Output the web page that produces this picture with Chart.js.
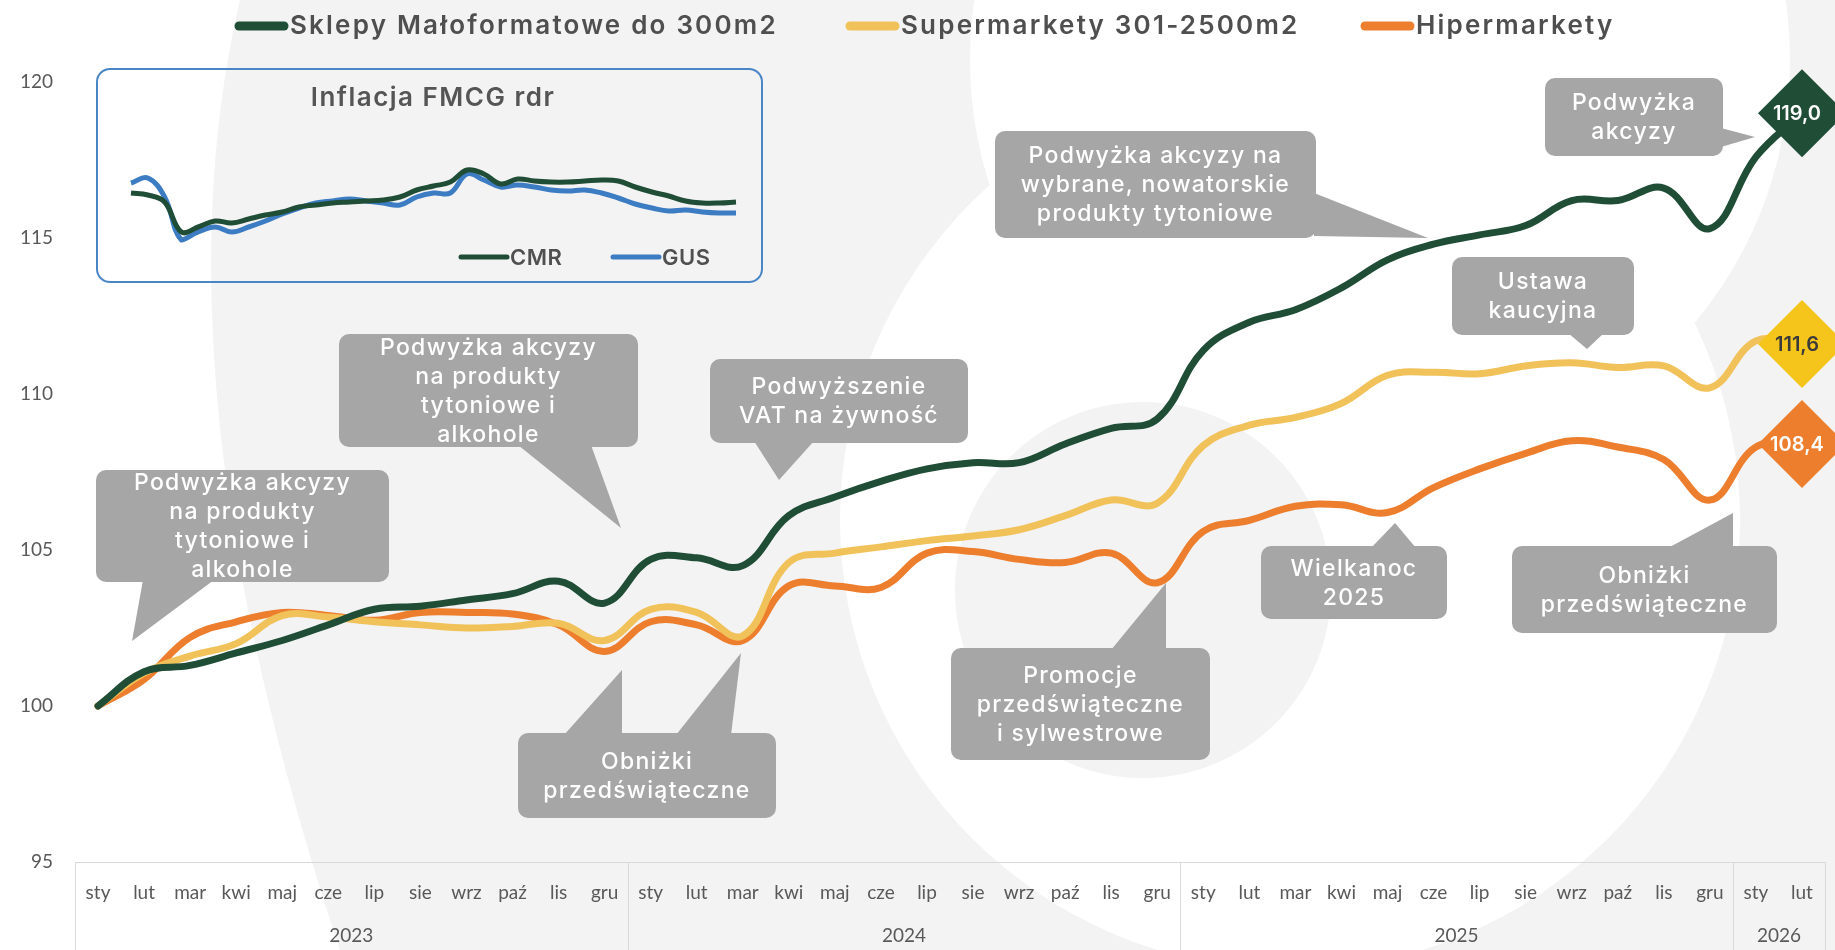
<!DOCTYPE html>
<html>
<head>
<meta charset="utf-8">
<script src="https://cdn.jsdelivr.net/npm/chart.js@4.4.1/dist/chart.umd.min.js"></script>
<style>
  html, body { margin: 0; padding: 0; background: #fff; }
  #wrap { position: relative; width: 1835px; height: 950px; overflow: hidden; }
  #main { position: absolute; left: 0; top: 0; }
  #insetBox { position: absolute; left: 96px; top: 68px; width: 667px; height: 215px; box-sizing: border-box;
              border: 2px solid #4a86c6; border-radius: 14px; }
  #insetChart { position: absolute; left: 96px; top: 68px; }
</style>
</head>
<body>
<div id="wrap">
  <canvas id="main" width="1835" height="950"></canvas>
  <div id="insetBox"></div>
  <canvas id="insetChart" width="667" height="215"></canvas>
</div>
<script>
// Ceny w kanałach handlu - indeks (sty 2023 = 100)
const months = ['sty', 'lut', 'mar', 'kwi', 'maj', 'cze', 'lip', 'sie', 'wrz', 'paź', 'lis', 'gru'];
const periodLabels = [...months, ...months, ...months, 'sty', 'lut'];
const yearLabels = ['2023', '2024', '2025', '2026'];
const monthsPerYear = [12, 12, 12, 2];
const yTicks = [95, 100, 105, 110, 115, 120];

const smallStores = [
  100.0, 101.1, 101.3, 101.7, 102.1, 102.6, 103.1, 103.2, 103.4, 103.6, 104.0, 103.3,
  104.7, 104.75, 104.5, 106.1, 106.7, 107.2, 107.6, 107.8, 107.8, 108.4, 108.9, 109.2,
  111.4, 112.3, 112.7, 113.4, 114.3, 114.8, 115.1, 115.4, 116.2, 116.2, 116.6, 115.3,
  117.6, 119.0
];
const supermarkets = [
  100.0, 101.05, 101.6, 102.0, 102.9, 102.85, 102.7, 102.6, 102.5, 102.55, 102.65, 102.1,
  103.1, 103.0, 102.25, 104.6, 104.9, 105.1, 105.3, 105.45, 105.65, 106.1, 106.6, 106.5,
  108.35, 109.0, 109.25, 109.7, 110.6, 110.7, 110.65, 110.9, 111.0, 110.85, 110.9, 110.2,
  111.7, 111.6
];
const hypermarkets = [
  100.0, 100.85, 102.2, 102.7, 103.0, 102.9, 102.75, 103.0, 103.0, 102.95, 102.6, 101.75,
  102.7, 102.6, 102.1, 103.85, 103.85, 103.8, 104.9, 104.95, 104.7, 104.6, 104.9, 103.95,
  105.6, 105.95, 106.4, 106.45, 106.2, 107.0, 107.6, 108.1, 108.5, 108.3, 107.9, 106.6,
  108.3, 108.4
];

// Inflacja FMCG rdr (wstawka)
const cmrInflation = [
  6.7, 6.5, 5.8, 2.8, 3.3, 3.9, 3.7, 4.1, 4.5, 4.8, 5.3, 5.5, 5.7, 5.8, 5.9, 6.0, 6.3, 7.0, 7.4,
  7.8, 9.0, 8.6, 7.6, 8.1, 7.9, 7.8, 7.8, 7.9, 8.0, 7.9, 7.3, 6.8, 6.4, 5.9, 5.7, 5.7, 5.8
];
const gusInflation = [
  7.7, 8.2, 6.3, 2.0, 2.8, 3.3, 2.8, 3.3, 3.9, 4.6, 5.2, 5.7, 5.9, 6.1, 5.9, 5.7, 5.5, 6.3, 6.7,
  6.7, 8.6, 8.0, 7.3, 7.5, 7.3, 7.0, 6.9, 7.0, 6.7, 6.2, 5.6, 5.2, 4.9, 5.0, 4.8, 4.7, 4.7
];

const COLORS = {
  green: '#1f4d36',
  yellow: '#f1c25a',
  orange: '#ec7e2e',
  yellowTag: '#f6c51c',
  blue: '#3b7cc3',
  note: '#a6a6a6',
  text: '#595959',
  grid: '#d9d9d9'
};

const SANS = 'Inter, "Open Sans", sans-serif';
Chart.defaults.font.family = 'Lato, "Open Sans", sans-serif';

// annotations: box [x, y, w, h] and pointer triangles in canvas px
const notes = [
  { lines: ['Podwyżka akcyzy', 'na produkty', 'tytoniowe i', 'alkohole'], box: [96, 470, 293, 112],
    tips: [[[143, 580], [214, 580], [132, 641]]] },
  { lines: ['Podwyżka akcyzy', 'na produkty', 'tytoniowe i', 'alkohole'], box: [339, 334, 299, 113],
    tips: [[[518, 445], [591, 445], [621, 528]]] },
  { lines: ['Podwyższenie', 'VAT na żywność'], box: [710, 359, 258, 84],
    tips: [[[754, 441], [814, 441], [779, 480]]] },
  { lines: ['Podwyżka akcyzy na', 'wybrane, nowatorskie', 'produkty tytoniowe'], box: [995, 131, 321, 107],
    tips: [[[1314, 193], [1314, 236], [1428, 238]]] },
  { lines: ['Podwyżka', 'akcyzy'], box: [1545, 78, 178, 78],
    tips: [[[1721, 128], [1721, 147], [1755, 137]]] },
  { lines: ['Ustawa', 'kaucyjna'], box: [1452, 257, 182, 78],
    tips: [[[1568, 333], [1604, 333], [1587, 349]]] },
  { lines: ['Obniżki', 'przedświąteczne'], box: [518, 733, 258, 85],
    tips: [[[564, 735], [622, 735], [622, 670]], [[676, 735], [731, 735], [741, 653]]] },
  { lines: ['Promocje', 'przedświąteczne', 'i sylwestrowe'], box: [951, 648, 259, 112],
    tips: [[[1111, 650], [1166, 650], [1166, 583]]] },
  { lines: ['Wielkanoc', '2025'], box: [1261, 546, 186, 73],
    tips: [[[1371, 548], [1416, 548], [1395, 523]]] },
  { lines: ['Obniżki', 'przedświąteczne'], box: [1512, 546, 265, 87],
    tips: [[[1668, 548], [1733, 548], [1733, 513]]] }
];

const legendItems = [
  { label: 'Sklepy Małoformatowe do 300m2', color: COLORS.green, x: 234 },
  { label: 'Supermarkety 301-2500m2', color: COLORS.yellow, x: 845 },
  { label: 'Hipermarkety', color: COLORS.orange, x: 1360 }
];

const endTags = [
  { fill: COLORS.green, text: '#ffffff' },
  { fill: COLORS.yellowTag, text: '#3a3a3a' },
  { fill: COLORS.orange, text: '#ffffff' }
];

// light watermark shapes behind the chart
const backdrop = {
  id: 'backdrop',
  beforeDraw(chart) {
    const ctx = chart.ctx;
    ctx.save();
    ctx.fillStyle = '#ffffff';
    ctx.fillRect(0, 0, chart.width, chart.height);
    ctx.fillStyle = '#f3f3f3';
    ctx.beginPath();
    ctx.moveTo(240, 0);
    ctx.quadraticCurveTo(150, 380, 340, 950);
    ctx.lineTo(1835, 950);
    ctx.lineTo(1835, 0);
    ctx.closePath();
    ctx.fill();
    ctx.fillStyle = '#ffffff';
    ctx.beginPath(); ctx.arc(1290, 520, 450, 0, Math.PI * 2); ctx.fill();
    ctx.beginPath(); ctx.arc(1380, 60, 410, 0, Math.PI * 2); ctx.fill();
    ctx.fillStyle = '#f3f3f3';
    ctx.beginPath(); ctx.arc(1143, 590, 188, 0, Math.PI * 2); ctx.fill();
    ctx.restore();
  }
};

function roundBox(ctx, x, y, w, h, r) {
  ctx.beginPath();
  ctx.moveTo(x + r, y);
  ctx.arcTo(x + w, y, x + w, y + h, r);
  ctx.arcTo(x + w, y + h, x, y + h, r);
  ctx.arcTo(x, y + h, x, y, r);
  ctx.arcTo(x, y, x + w, y, r);
  ctx.closePath();
}

const overlay = {
  id: 'overlay',
  afterDraw(chart) {
    const ctx = chart.ctx;
    const xs = chart.scales.x;
    const area = chart.chartArea;
    ctx.save();

    // axis table
    ctx.strokeStyle = COLORS.grid;
    ctx.lineWidth = 1;
    ctx.beginPath();
    ctx.moveTo(area.left, area.bottom + 0.5);
    ctx.lineTo(area.right, area.bottom + 0.5);
    const seps = [area.left];
    let idx = 0;
    monthsPerYear.forEach((n, k) => {
      idx += n;
      if (k < monthsPerYear.length - 1) {
        seps.push((xs.getPixelForValue(idx - 1) + xs.getPixelForValue(idx)) / 2);
      }
    });
    seps.push(area.right);
    seps.forEach(x => {
      ctx.moveTo(Math.round(x) + 0.5, area.bottom);
      ctx.lineTo(Math.round(x) + 0.5, chart.height);
    });
    ctx.stroke();

    ctx.fillStyle = COLORS.text;
    ctx.font = '19px Lato, "Open Sans", sans-serif';
    ctx.textAlign = 'center';
    ctx.textBaseline = 'middle';
    yearLabels.forEach((lbl, k) => ctx.fillText(lbl, (seps[k] + seps[k + 1]) / 2, 936));

    // callouts
    notes.forEach(n => {
      const [x, y, w, h] = n.box;
      ctx.fillStyle = COLORS.note;
      roundBox(ctx, x, y, w, h, 10);
      ctx.fill();
      n.tips.forEach(t => {
        ctx.beginPath();
        ctx.moveTo(t[0][0], t[0][1]);
        ctx.lineTo(t[1][0], t[1][1]);
        ctx.lineTo(t[2][0], t[2][1]);
        ctx.closePath();
        ctx.fill();
      });
      ctx.fillStyle = '#ffffff';
      ctx.font = '500 23px ' + SANS;
      ctx.letterSpacing = '1.3px';
      const lh = 29;
      const y0 = y + h / 2 - (n.lines.length - 1) * lh / 2;
      n.lines.forEach((line, i) => ctx.fillText(line, x + w / 2, y0 + i * lh + 1));
      ctx.letterSpacing = '0px';
    });

    // end-value diamonds
    chart.data.datasets.forEach((ds, i) => {
      const meta = chart.getDatasetMeta(i);
      const pt = meta.data[meta.data.length - 1];
      const tag = endTags[i];
      const s = 44;
      ctx.fillStyle = tag.fill;
      ctx.beginPath();
      ctx.moveTo(pt.x, pt.y - s);
      ctx.lineTo(pt.x + s, pt.y);
      ctx.lineTo(pt.x, pt.y + s);
      ctx.lineTo(pt.x - s, pt.y);
      ctx.closePath();
      ctx.fill();
      ctx.fillStyle = tag.text;
      ctx.font = '600 20px ' + SANS;
      const v = ds.data[ds.data.length - 1];
      ctx.fillText(v.toFixed(1).replace('.', ','), pt.x - 5, pt.y + 1);
    });

    // legend
    ctx.textAlign = 'left';
    ctx.font = '600 26px ' + SANS;
    ctx.letterSpacing = '2.2px';
    legendItems.forEach(item => {
      ctx.strokeStyle = item.color;
      ctx.lineWidth = 9;
      ctx.lineCap = 'round';
      ctx.beginPath();
      ctx.moveTo(item.x + 5, 26);
      ctx.lineTo(item.x + 50, 26);
      ctx.stroke();
      ctx.fillStyle = '#4f4f4f';
      ctx.fillText(item.label, item.x + 56, 26);
    });
    ctx.letterSpacing = '0px';
    ctx.restore();
  }
};

const lineStyle = {
  borderWidth: 7,
  pointRadius: 0,
  tension: 0.4,
  borderCapStyle: 'round',
  borderJoinStyle: 'round',
  fill: false
};

new Chart(document.getElementById('main'), {
  type: 'line',
  data: {
    labels: periodLabels,
    datasets: [
      Object.assign({ label: legendItems[0].label, data: smallStores, borderColor: COLORS.green }, lineStyle),
      Object.assign({ label: legendItems[1].label, data: supermarkets, borderColor: COLORS.yellow }, lineStyle),
      Object.assign({ label: legendItems[2].label, data: hypermarkets, borderColor: COLORS.orange }, lineStyle)
    ]
  },
  options: {
    responsive: false,
    animation: false,
    devicePixelRatio: 1,
    layout: { padding: { top: 82, right: 10, left: 0, bottom: 0 } },
    plugins: { legend: { display: false }, tooltip: { enabled: false } },
    scales: {
      x: {
        offset: true,
        grid: { display: false, drawTicks: false },
        border: { display: false },
        ticks: { autoSkip: false, maxRotation: 0, color: COLORS.text, font: { size: 19 }, padding: 19 },
        afterFit: s => { s.height = 88; }
      },
      y: {
        min: yTicks[0],
        max: yTicks[yTicks.length - 1],
        grid: { display: false, drawTicks: false },
        border: { display: false },
        afterBuildTicks: s => { s.ticks = yTicks.map(v => ({ value: v })); },
        ticks: { color: COLORS.text, font: { size: 19 }, padding: 22 },
        afterFit: s => { s.width = 75; }
      }
    }
  },
  plugins: [backdrop, overlay]
});

// inset: Inflacja FMCG rdr
const insetDecor = {
  id: 'insetDecor',
  afterDraw(chart) {
    const ctx = chart.ctx;
    ctx.save();
    ctx.fillStyle = '#555555';
    ctx.font = '600 26px ' + SANS;
    ctx.letterSpacing = '1.5px';
    ctx.textAlign = 'center';
    ctx.textBaseline = 'middle';
    ctx.fillText('Inflacja FMCG rdr', 337, 30);
    ctx.textAlign = 'left';
    ctx.font = '600 22px ' + SANS;
    ctx.letterSpacing = '0.5px';
    [['CMR', COLORS.green, 363], ['GUS', COLORS.blue, 515]].forEach(([lbl, col, x]) => {
      ctx.strokeStyle = col;
      ctx.lineWidth = 5;
      ctx.lineCap = 'round';
      ctx.beginPath();
      ctx.moveTo(x + 2, 189);
      ctx.lineTo(x + 48, 189);
      ctx.stroke();
      ctx.fillStyle = '#505050';
      ctx.fillText(lbl, x + 51, 190);
    });
    ctx.letterSpacing = '0px';
    ctx.restore();
  }
};

new Chart(document.getElementById('insetChart'), {
  type: 'line',
  data: {
    labels: cmrInflation.map((_, i) => i),
    datasets: [
      { label: 'CMR', data: cmrInflation, borderColor: COLORS.green, borderWidth: 5, pointRadius: 0, tension: 0.4, clip: false },
      { label: 'GUS', data: gusInflation, borderColor: COLORS.blue, borderWidth: 5, pointRadius: 0, tension: 0.4, clip: false }
    ]
  },
  options: {
    responsive: false,
    animation: false,
    devicePixelRatio: 1,
    layout: { padding: { left: 35, right: 27, top: 97, bottom: 43 } },
    plugins: { legend: { display: false }, tooltip: { enabled: false } },
    scales: {
      x: { display: false },
      y: { display: false, min: 2, max: 9.5 }
    }
  },
  plugins: [insetDecor]
});
</script>
</body>
</html>
